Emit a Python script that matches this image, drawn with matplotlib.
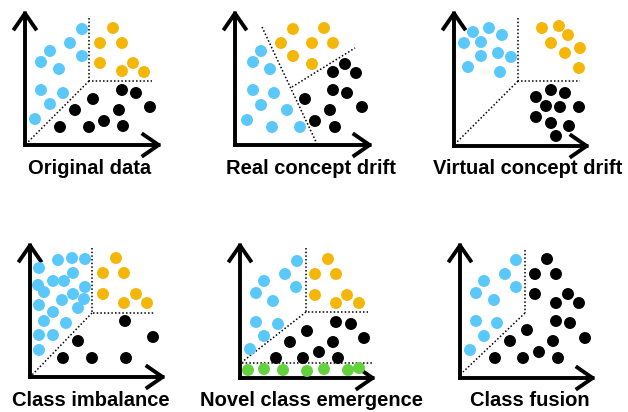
import numpy as np
import matplotlib.pyplot as plt

# colours
BLUE = '#5AC8FA'
ORANGE = '#F5B60A'
BLACK = '#000000'
GREEN = '#64D13E'

# panel titles and anchors (x, y of label centre)
titles = ['Original data', 'Real concept drift', 'Virtual concept drift',
          'Class imbalance', 'Novel class emergence', 'Class fusion']
title_pos = [(90, 168), (311, 168), (528, 168), (91, 400), (312, 400), (530, 400)]

# axis frames: origin, top of y arrow, end of x arrow
origins = [(25, 145), (235, 145), (454, 146), (30, 377), (240, 378), (460, 378)]
y_tops = [10, 10, 10, 242, 242, 242]
x_ends = [162, 373, 590, 166, 376, 596]

# dotted boundary lines, per panel (list of polylines)
bounds = [
    [[(89, 18), (89, 81), (152, 81)], [(89, 81), (28, 142)]],
    [[(262, 27), (317, 144)], [(292, 87), (355, 48)]],
    [[(518, 18), (518, 81), (580, 81)], [(518, 81), (456, 143)]],
    [[(92, 248), (92, 313), (155, 313)], [(92, 313), (32, 375)]],
    [[(306, 248), (306, 312), (368, 312)], [(306, 312), (242, 362)], [(242, 363), (372, 363)]],
    [[(525, 250), (525, 313)], [(525, 313), (463, 372)]],
]

# point clouds
blue_pts = [
    [(82, 29), (70, 43), (50, 51), (41, 62), (59, 69), (82, 56), (41, 90), (63, 93), (50, 104), (35, 119)],
    [(261, 51), (253, 62), (270, 69), (253, 90), (274, 93), (261, 105), (287, 110), (247, 120), (272, 127), (300, 127)],
    [(473, 32), (489, 28), (502, 35), (464, 43), (481, 42), (481, 56), (498, 53), (511, 57), (468, 67), (500, 72)],
    [(58, 260), (72, 258), (85, 259), (39, 268), (73, 273), (53, 281), (64, 281), (38, 285), (44, 292), (85, 287),
     (73, 294), (84, 299), (62, 300), (39, 305), (78, 308), (53, 312), (44, 321), (66, 323), (39, 335), (53, 335), (39, 350)],
    [(297, 261), (285, 274), (264, 281), (256, 293), (273, 301), (296, 287), (256, 322), (278, 324), (264, 336), (250, 349)],
    [(516, 260), (505, 274), (484, 281), (476, 293), (494, 300), (516, 287), (476, 321), (497, 323), (484, 336), (470, 350)],
]
orange_pts = [
    [(113, 28), (100, 43), (122, 43), (100, 63), (122, 71), (133, 63), (144, 72)],
    [(293, 29), (324, 28), (281, 43), (312, 43), (333, 43), (293, 56), (312, 64)],
    [(542, 28), (559, 26), (568, 35), (551, 43), (580, 48), (565, 53), (579, 68)],
    [(116, 258), (103, 273), (124, 273), (103, 294), (136, 294), (124, 303), (147, 303)],
    [(328, 259), (315, 274), (336, 274), (315, 295), (347, 295), (336, 303), (359, 303)],
    [],
]
black_pts = [
    [(122, 90), (136, 93), (93, 99), (150, 107), (75, 110), (119, 110), (104, 121), (60, 127), (89, 127), (123, 126)],
    [(345, 64), (333, 72), (356, 73), (333, 90), (347, 93), (305, 99), (362, 107), (330, 110), (315, 121), (335, 127)],
    [(551, 90), (565, 93), (536, 97), (546, 106), (560, 107), (579, 107), (536, 117), (551, 123), (569, 126), (556, 136)],
    [(125, 321), (153, 337), (78, 341), (63, 358), (92, 358), (126, 358)],
    [(336, 322), (351, 324), (307, 331), (364, 338), (290, 342), (333, 342), (319, 352), (276, 358), (303, 358), (338, 358)],
    [(547, 259), (535, 274), (556, 274), (535, 294), (568, 294), (556, 303), (579, 303), (556, 321), (570, 323),
     (527, 330), (585, 338), (510, 341), (553, 341), (539, 352), (495, 358), (523, 358), (558, 358)],
]
green_pts = [[], [], [], [],
             [(248, 370), (264, 369), (283, 370), (307, 371), (324, 369), (348, 370), (359, 368)],
             []]

fig = plt.figure(figsize=(6.28, 4.12), dpi=100)
ax = fig.add_axes([0, 0, 1, 1])
ax.set_xlim(0, 628)
ax.set_ylim(412, 0)
ax.axis('off')

arrow = dict(arrowstyle='->,head_length=0.55,head_width=0.38', lw=2.8, color='black',
             shrinkA=0, shrinkB=0, mutation_scale=20, capstyle='projecting')

for i in range(6):
    ox, oy = origins[i]
    ax.annotate('', xy=(ox, y_tops[i]), xytext=(ox, oy), arrowprops=arrow)
    ax.annotate('', xy=(x_ends[i], oy), xytext=(ox, oy), arrowprops=arrow)
    for line in bounds[i]:
        xs, ys = zip(*line)
        ax.plot(xs, ys, color='black', lw=1.1, ls=(0, (1.0, 1.4)))
    for pts, c in [(blue_pts[i], BLUE), (orange_pts[i], ORANGE), (black_pts[i], BLACK), (green_pts[i], GREEN)]:
        if pts:
            p = np.array(pts)
            ax.scatter(p[:, 0], p[:, 1], s=74, color=c, edgecolors='none', zorder=3)
    tx, ty = title_pos[i]
    ax.text(tx, ty, titles[i], ha='center', va='center', fontsize=14.5,
            fontweight='bold', family='Liberation Sans')

fig.savefig('out.png', dpi=100)
